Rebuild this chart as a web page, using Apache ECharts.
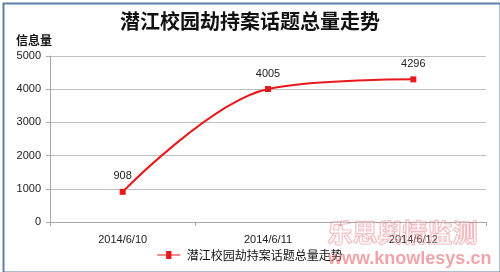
<!DOCTYPE html>
<html><head><meta charset="utf-8">
<script src="https://cdn.jsdelivr.net/npm/echarts@6/dist/echarts.min.js"></script>
<style>html,body{margin:0;padding:0;background:#fff}#c{width:500px;height:272px}</style>
</head><body><div id="c"></div>
<script>
const categories = ['2014/6/10', '2014/6/11', '2014/6/12'];
const values = [908, 4005, 4296];
const seriesName = '潜江校园劫持案话题总量走势';
const titleText = '潜江校园劫持案话题总量走势';
const yAxisName = '信息量';

const chart = echarts.init(document.getElementById('c'), null, {renderer: 'canvas'});
chart.setOption({
  animation: false,
  backgroundColor: '#fff',
  title: {
    text: titleText, left: 'center', top: 6,
    textStyle: {fontFamily: 'Noto Sans CJK SC', fontWeight: 'bold', fontSize: 20, color: '#111'}
  },
  graphic: [
    {type: 'rect', left: 1, top: 1, shape: {width: 497, height: 269}, style: {fill: 'none', stroke: '#5f7fa8', lineWidth: 2}, z: 100},
    {type: 'text', left: 327, top: 219, style: {text: '乐思舆情监测', fontSize: 25, fontWeight: 'bold', fontFamily: 'Noto Sans CJK SC', fill: 'rgba(255,255,255,0.25)', stroke: 'rgba(225,110,120,0.5)', lineWidth: 1.2}, z: 50},
    {type: 'text', left: 328, top: 250, style: {text: 'www.knowlesys.cn', fontSize: 18, fontWeight: 'bold', fontFamily: 'Liberation Sans Narrow, Liberation Sans', fill: 'rgba(228,90,100,0.55)'}, z: 50}
  ],
  legend: {
    bottom: 6, left: 'center', itemWidth: 26, itemHeight: 8,
    icon: 'path://M0,4 L10,4 L10,0 L16,0 L16,4 L26,4 L26,5 L16,5 L16,9 L10,9 L10,5 L0,5 Z',
    textStyle: {fontSize: 12, color: '#111', fontFamily: 'Noto Sans CJK SC'},
    itemGap: 4,
    data: [seriesName]
  },
  grid: {left: 50, right: 14, top: 56, bottom: 50},
  xAxis: {
    type: 'category', data: categories, boundaryGap: true,
    axisLine: {lineStyle: {color: '#a6a6a6'}},
    axisTick: {show: true, lineStyle: {color: '#a6a6a6'}, length: 4},
    axisLabel: {color: '#222', fontSize: 11, margin: 12, fontFamily: 'Liberation Sans'}
  },
  yAxis: {
    type: 'value', min: 0, max: 5000, interval: 1000,
    name: yAxisName, nameLocation: 'end', nameGap: 10,
    nameTextStyle: {fontWeight: 'bold', fontSize: 12, color: '#111', align: 'right', padding: [0, -2, 0, 0], fontFamily: 'Noto Sans CJK SC'},
    axisLine: {show: true, lineStyle: {color: '#a6a6a6'}},
    axisTick: {show: true, inside: false, length: 4, lineStyle: {color: '#a6a6a6'}},
    axisLabel: {color: '#222', fontSize: 11, margin: 9, fontFamily: 'Liberation Sans', formatter: v => String(v)},
    splitLine: {lineStyle: {color: '#bfbfbf', width: 1}}
  },
  series: [{
    name: seriesName, type: 'line', data: values, smooth: 0.35,
    symbol: 'rect', symbolSize: 6,
    lineStyle: {color: '#e8191c', width: 2},
    itemStyle: {color: '#e8191c'},
    label: {show: true, position: 'top', distance: 7, color: '#222', fontSize: 11, fontFamily: 'Liberation Sans'}
  }]
});
</script></body></html>
